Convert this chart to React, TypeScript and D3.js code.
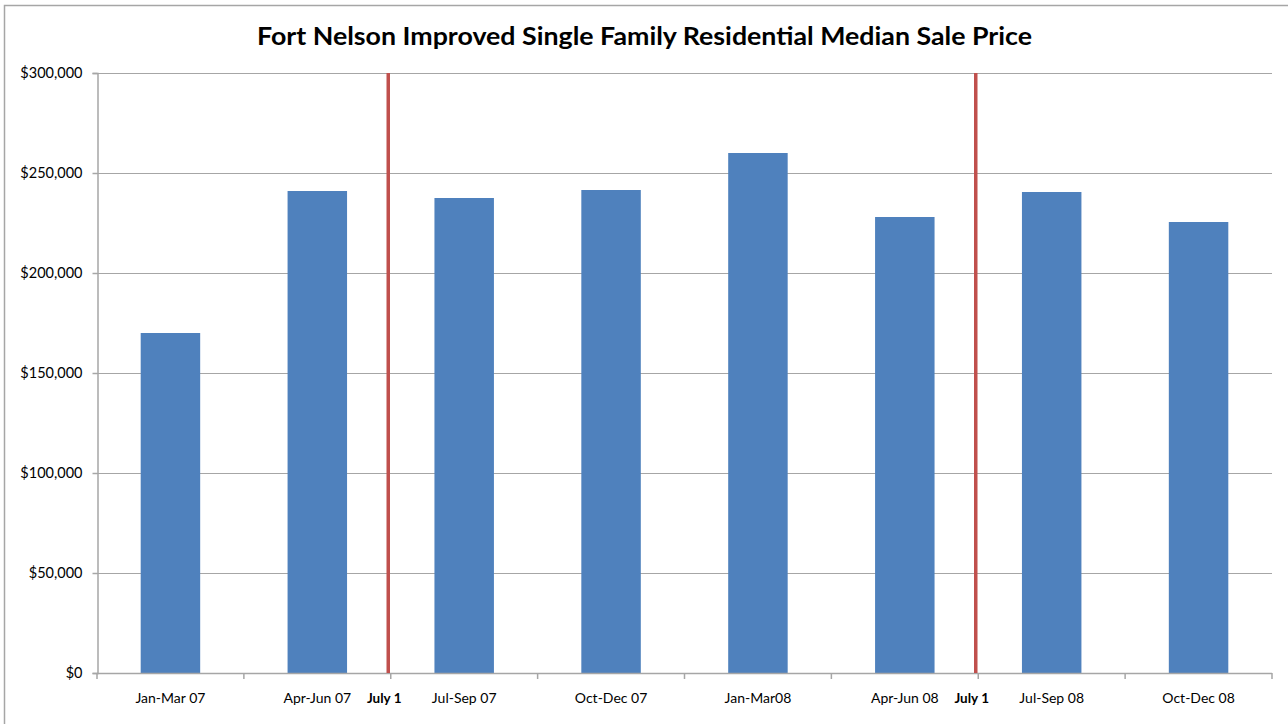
import React, { useEffect, useRef } from "react";
import * as d3 from "d3";

const categories = [
  "Jan-Mar 07",
  "Apr-Jun 07",
  "Jul-Sep 07",
  "Oct-Dec 07",
  "Jan-Mar08",
  "Apr-Jun 08",
  "Jul-Sep 08",
  "Oct-Dec 08",
];
const medianPrice = [170000, 241000, 237500, 241500, 260000, 228000, 240500, 225500];
const yTicks = [0, 50000, 100000, 150000, 200000, 250000, 300000];
// "July 1" markers sit just before these quarters
const markerBefore = ["Jul-Sep 07", "Jul-Sep 08"];
const markerLabel = "July 1";
const title = "Fort Nelson Improved Single Family Residential Median Sale Price";

export default function App() {
  const ref = useRef<SVGSVGElement | null>(null);

  useEffect(() => {
    if (!ref.current) return;
    const svg = d3.select(ref.current);
    svg.selectAll("*").remove();

    const W = 1288;
    const H = 724;
    const margin = { top: 73, right: 16, bottom: 50, left: 97 };
    const font = "Lato, 'Open Sans', sans-serif";
    const gray = "#a6a6a6";

    // outer chart border (runs off the right and bottom edges)
    svg
      .append("rect")
      .attr("x", 4.5)
      .attr("y", 5.5)
      .attr("width", W + 10)
      .attr("height", H + 10)
      .attr("fill", "#fff")
      .attr("stroke", gray)
      .attr("stroke-width", 1.5);

    const x = d3
      .scaleBand()
      .domain(categories)
      .range([margin.left, W - margin.right])
      .paddingInner(0.595)
      .paddingOuter(0.595 / 2);

    const y = d3
      .scaleLinear()
      .domain([0, 300000])
      .range([H - margin.bottom - 1, margin.top]);

    svg
      .append("text")
      .attr("x", (margin.left + W - margin.right) / 2 - 40)
      .attr("y", 45)
      .attr("text-anchor", "middle")
      .attr("font-family", font)
      .attr("font-weight", "bold")
      .attr("font-size", 24)
      .attr("textLength", 775)
      .attr("lengthAdjust", "spacingAndGlyphs")
      .attr("fill", "#000")
      .text(title);

    // gridlines
    svg
      .append("g")
      .selectAll("line")
      .data(yTicks.filter((d) => d > 0))
      .enter()
      .append("line")
      .attr("x1", margin.left)
      .attr("x2", W - margin.right)
      .attr("y1", (d) => Math.round(y(d)) + 0.5)
      .attr("y2", (d) => Math.round(y(d)) + 0.5)
      .attr("stroke", gray)
      .attr("stroke-width", 1);

    // bars
    svg
      .append("g")
      .selectAll("rect")
      .data(medianPrice)
      .enter()
      .append("rect")
      .attr("x", (d, i) => x(categories[i])!)
      .attr("y", (d) => y(d))
      .attr("width", x.bandwidth())
      .attr("height", (d) => y(0) - y(d))
      .attr("fill", "#4f81bd");

    // y axis
    const yAxis = svg
      .append("g")
      .attr("transform", `translate(${margin.left + 0.5},0)`)
      .call(
        d3
          .axisLeft(y)
          .tickValues(yTicks)
          .tickSize(5)
          .tickPadding(10)
          .tickFormat((d) => "$" + d3.format(",")(d as number))
      );
    yAxis.select(".domain").attr("stroke", gray).attr("stroke-width", 1.5);
    yAxis.selectAll(".tick line").attr("stroke", gray).attr("stroke-width", 1.5);
    yAxis
      .selectAll(".tick text")
      .attr("font-family", font)
      .attr("font-size", 14.5)
      .attr("fill", "#000");

    // x axis with ticks at band boundaries
    const step = x.step();
    const bounds = d3.range(categories.length + 1).map((i) => margin.left + i * step);
    const xg = svg.append("g");
    xg.append("line")
      .attr("x1", margin.left)
      .attr("x2", W - margin.right)
      .attr("y1", y(0) + 0.5)
      .attr("y2", y(0) + 0.5)
      .attr("stroke", gray)
      .attr("stroke-width", 1.5);
    xg.selectAll("line.tk")
      .data(bounds)
      .enter()
      .append("line")
      .attr("class", "tk")
      .attr("x1", (d) => d)
      .attr("x2", (d) => d)
      .attr("y1", y(0))
      .attr("y2", y(0) + 6)
      .attr("stroke", gray)
      .attr("stroke-width", 1.5);
    xg.selectAll("text")
      .data(categories)
      .enter()
      .append("text")
      .attr("x", (d) => x(d)! + x.bandwidth() / 2)
      .attr("y", y(0) + 30)
      .attr("text-anchor", "middle")
      .attr("font-family", font)
      .attr("font-size", 14)
      .attr("fill", "#000")
      .text((d) => d);

    // July 1 markers
    const mg = svg.append("g");
    markerBefore.forEach((cat) => {
      const mx = margin.left + categories.indexOf(cat) * step - 2.5;
      mg.append("line")
        .attr("x1", mx)
        .attr("x2", mx)
        .attr("y1", y(300000))
        .attr("y2", y(0))
        .attr("stroke", "#c0504d")
        .attr("stroke-width", 3.5);
      mg.append("text")
        .attr("x", mx - 4)
        .attr("y", y(0) + 30)
        .attr("text-anchor", "middle")
        .attr("font-family", font)
        .attr("font-weight", "bold")
        .attr("font-size", 13.5)
        .attr("fill", "#000")
        .text(markerLabel);
    });
  }, []);

  return (
    <svg
      ref={ref}
      width={1288}
      height={724}
      style={{ position: "absolute", left: 0, top: 0, background: "#fff" }}
    />
  );
}
